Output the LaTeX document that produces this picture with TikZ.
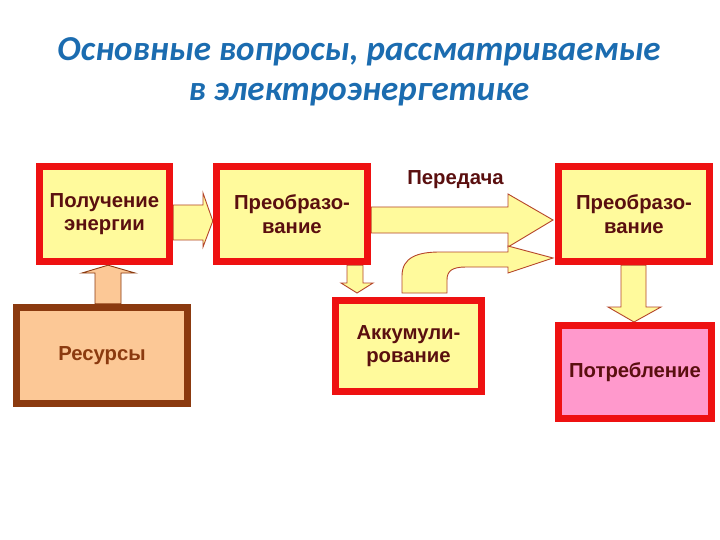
\documentclass[tikz,border=0pt]{standalone}
\usepackage{fontspec}
\setmainfont{Liberation Sans}
\newfontfamily\titlefont{Carlito}
\usetikzlibrary{calc}
\definecolor{boxred}{HTML}{EE1111}
\definecolor{boxyellow}{HTML}{FFFA9C}
\definecolor{arrowline}{HTML}{B5452A}
\definecolor{txtdark}{HTML}{5A0F0F}
\definecolor{peach}{HTML}{FCC896}
\definecolor{resbrown}{HTML}{8B3A0F}
\definecolor{pinkfill}{HTML}{FF99CC}
\definecolor{titleblue}{HTML}{1B6CB0}
\tikzset{
  block/.style={draw=boxred, line width=7pt, fill=boxyellow, align=center,
    font=\fontsize{20.3}{23.5}\selectfont\bfseries, text=txtdark, inner sep=0pt},
  yarrow/.style={draw=arrowline, line width=0.9pt, fill=boxyellow, line join=miter},
  parrow/.style={draw=resbrown, line width=0.9pt, fill=peach, line join=miter},
  ttl/.style={font=\titlefont\bfseries\itshape\fontsize{35}{40}\selectfont, text=titleblue, anchor=base, inner sep=0pt}
}
\begin{document}
\begin{tikzpicture}[x=1pt,y=-1pt]
\useasboundingbox[fill=white] (0,0) rectangle (720,540);

% title
\node[ttl] (t1) at (359,61) {Основные вопросы, рассматриваемые};
\node[ttl] (t2) at (359,101) {в электроэнергетике};

% box centres
\coordinate (c1) at (104.5,214);
\coordinate (c2) at (292,214);
\coordinate (c4) at (634,214);
\coordinate (c3) at (408.5,346);
\coordinate (c5) at (635,372);
\coordinate (c6) at (102,355.5);

% outer outlines of boxes, used as anchors for the block arrows
\path (c1) node[minimum width=137pt, minimum height=102pt, inner sep=0pt] (a1) {};
\path (c2) node[minimum width=158pt, minimum height=102pt, inner sep=0pt] (a2) {};
\path (c4) node[minimum width=158pt, minimum height=102pt, inner sep=0pt] (a4) {};
\path (c3) node[minimum width=153pt, minimum height=98pt, inner sep=0pt] (a3) {};
\path (c5) node[minimum width=160pt, minimum height=100pt, inner sep=0pt] (a5) {};
\path (c6) node[minimum width=178pt, minimum height=103pt, inner sep=0pt] (a6) {};

% Получение -> Преобразование
\draw[yarrow] (a1.east |- 0,205) -- (203,205) -- (203,193) -- (a2.west |- 0,221)
  -- (203,247) -- (203,240) -- (a1.east |- 0,240) -- cycle;
% Ресурсы -> Получение
\draw[parrow] (95,0 |- a6.north) -- (95,273) -- (82,273) -- (108,0 |- a1.south)
  -- (135,273) -- (121,273) -- (121,0 |- a6.north) -- cycle;
% Преобразование -> Аккумулирование
\draw[yarrow] (347,0 |- a2.south) -- (347,283) -- (341,283) -- (357,293)
  -- (373,283) -- (363,283) -- (363,0 |- a2.south) -- cycle;
% Передача
\draw[yarrow] (a2.east |- 0,207) -- (508,207) -- (508,194) -- (553,220)
  -- (508,247) -- (508,233) -- (a2.east |- 0,233) -- cycle;
% Аккумулирование -> Преобразование (curved)
\draw[yarrow] (402,293) -- (402,276) .. controls (402,257) and (418,252) .. (440,252)
  -- (508,252) -- (508,246) -- (553,258) -- (508,273) -- (508,267) -- (466,267)
  .. controls (452,267) and (447,271) .. (447,280) -- (447,293) -- cycle;
% Преобразование -> Потребление
\draw[yarrow] (621,0 |- a4.south) -- (621,307) -- (608,307) -- (634,322)
  -- (661,307) -- (646,307) -- (646,0 |- a4.south) -- cycle;

% boxes
\node[block, minimum width=130pt, minimum height=95pt] (b1) at (c1) {Получение\\энергии};
\node[block, minimum width=151pt, minimum height=95pt] (b2) at (c2) {Преобразо-\\вание};
\node[block, minimum width=151pt, minimum height=95pt] (b4) at (c4) {Преобразо-\\вание};
\node[block, minimum width=146pt, minimum height=91pt] (b3) at (c3) {Аккумули-\\рование};
\node[block, fill=pinkfill, minimum width=153pt, minimum height=93pt] (b5) at (c5) {Потребление};
\node[block, draw=resbrown, fill=peach, text=resbrown, minimum width=171pt, minimum height=96pt] (b6) at (c6) {Ресурсы};

% label
\node[font=\fontsize{20.3}{23.5}\selectfont\bfseries, text=txtdark, anchor=base, inner sep=0pt] (lbl) at (455.5,185) {Передача};
\end{tikzpicture}
\end{document}
